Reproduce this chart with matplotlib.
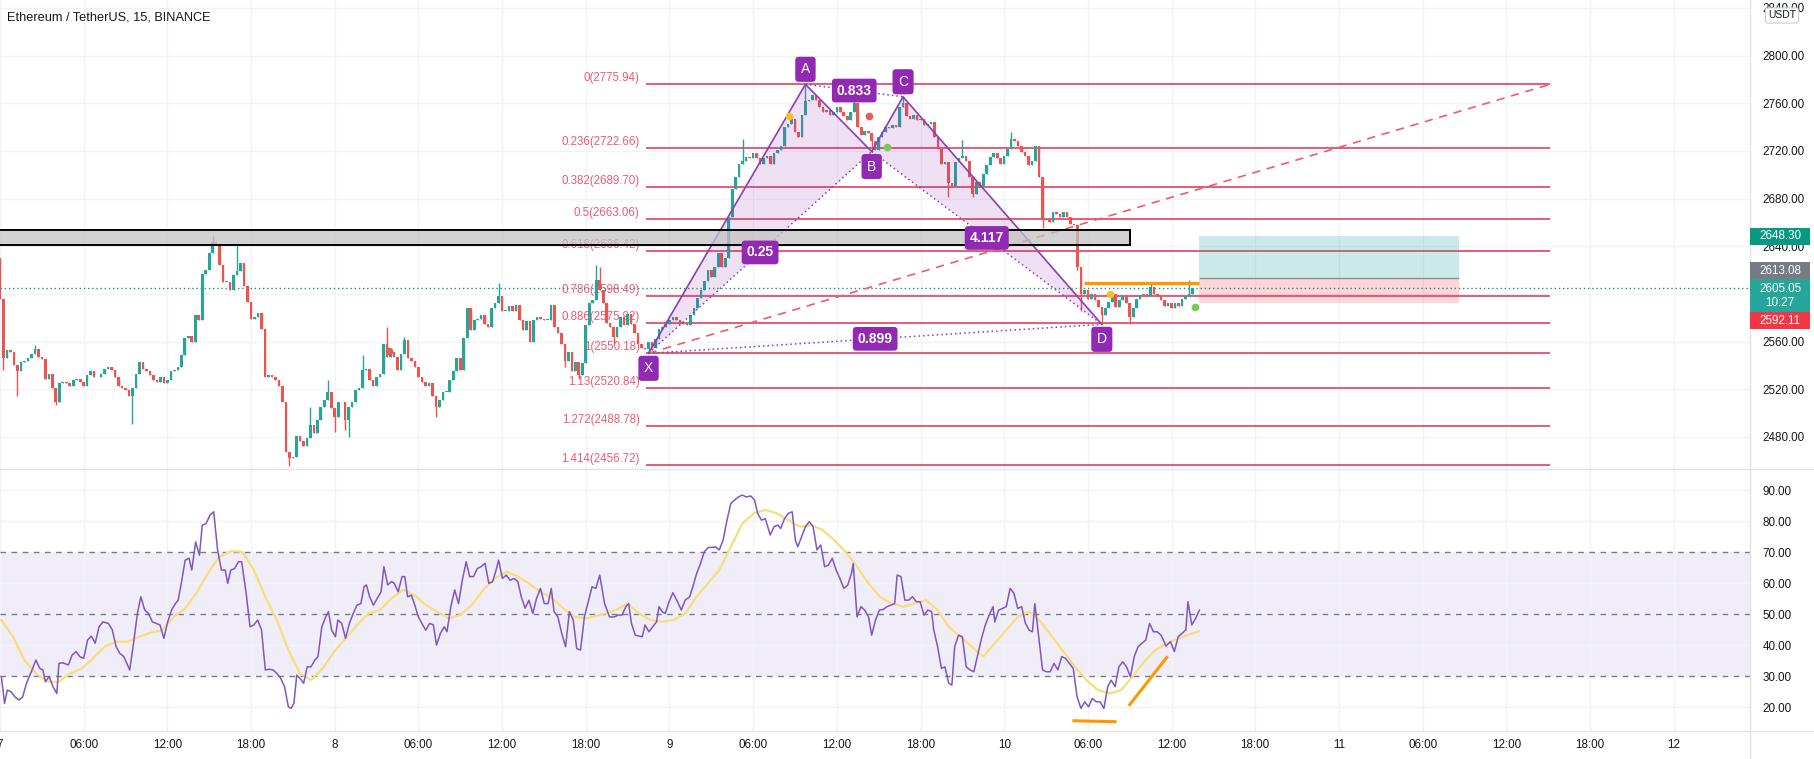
import matplotlib.pyplot as plt
import numpy as np
from matplotlib.patches import Rectangle, Polygon
from matplotlib.lines import Line2D

plt.rcParams['font.family'] = ['Liberation Sans', 'DejaVu Sans']

# ---- data (15 min bars, bar 0 = day 7 00:00) ----
first_open = 2630
closes = [
    2596, 2546, 2553, 2551, 2540, 2535, 2543, 2544, 2546, 2550,
    2554, 2547, 2545, 2529, 2533, 2521, 2509, 2525, 2526, 2525,
    2523, 2528, 2529, 2526, 2523, 2532, 2535, 2530, 2530, 2533,
    2537, 2539, 2536, 2530, 2523, 2521, 2519, 2514, 2521, 2533,
    2543, 2537, 2535, 2532, 2528, 2526, 2530, 2525, 2528, 2535,
    2536, 2539, 2549, 2563, 2565, 2560, 2582, 2578, 2617, 2620,
    2634, 2644, 2642, 2624, 2610, 2610, 2603, 2616, 2619, 2626,
    2607, 2593, 2579, 2581, 2584, 2571, 2530, 2532, 2530, 2528,
    2523, 2509, 2467, 2462, 2463, 2481, 2477, 2472, 2479, 2490,
    2483, 2494, 2505, 2511, 2518, 2504, 2497, 2509, 2509, 2494,
    2505, 2509, 2519, 2521, 2536, 2537, 2528, 2523, 2530, 2533,
    2558, 2547, 2551, 2547, 2536, 2550, 2561, 2546, 2544, 2539,
    2530, 2526, 2523, 2525, 2514, 2505, 2511, 2518, 2518, 2528,
    2535, 2546, 2536, 2563, 2588, 2570, 2578, 2579, 2582, 2575,
    2572, 2588, 2592, 2598, 2586, 2586, 2590, 2586, 2591, 2578,
    2570, 2577, 2560, 2578, 2581, 2579, 2578, 2578, 2591, 2572,
    2567, 2558, 2544, 2551, 2535, 2543, 2532, 2542, 2574, 2592,
    2595, 2612, 2603, 2592, 2576, 2572, 2564, 2572, 2581, 2574,
    2583, 2575, 2567, 2558, 2555, 2554, 2560, 2555, 2562, 2571,
    2572, 2575, 2578, 2581, 2578, 2575, 2576, 2574, 2582, 2588,
    2597, 2603, 2611, 2620, 2614, 2623, 2634, 2623, 2630, 2665,
    2688, 2698, 2709, 2712, 2715, 2714, 2718, 2714, 2709, 2714,
    2716, 2709, 2718, 2721, 2724, 2740, 2743, 2747, 2736, 2732,
    2750, 2762, 2763, 2767, 2763, 2757, 2753, 2754, 2750, 2753,
    2757, 2753, 2749, 2746, 2753, 2760, 2740, 2733, 2737, 2735,
    2728, 2721, 2732, 2736, 2740, 2739, 2742, 2740, 2757, 2760,
    2749, 2747, 2750, 2746, 2747, 2742, 2743, 2744, 2732, 2722,
    2709, 2711, 2693, 2691, 2711, 2714, 2716, 2712, 2698, 2684,
    2694, 2691, 2701, 2708, 2715, 2718, 2714, 2709, 2716, 2722,
    2730, 2728, 2724, 2719, 2716, 2708, 2712, 2724, 2698, 2662,
    2663, 2660, 2669, 2667, 2665, 2669, 2665, 2659, 2658, 2623,
    2600, 2603, 2596, 2600, 2595, 2589, 2582, 2588, 2593, 2600,
    2589, 2595, 2598, 2592, 2581, 2588, 2596, 2599, 2600, 2598,
    2606, 2600, 2598, 2595, 2590, 2592, 2588, 2592, 2590, 2596,
    2598, 2600, 2605.05,
]
# wick extremes that stick out past the bodies
wick_highs = {10: 2557, 61: 2649, 68: 2641, 89: 2505, 94: 2528, 104: 2549,
              111: 2572, 116: 2564, 143: 2609, 171: 2624, 172: 2623, 213: 2730,
              231: 2775.94, 245: 2766, 259: 2765.5, 276: 2729, 290: 2736,
              330: 2610, 341: 2612}
wick_lows = {1: 2536, 5: 2514, 16: 2507, 38: 2491, 83: 2456, 96: 2484, 99: 2486,
             100: 2480, 125: 2497, 162: 2539, 166: 2529, 176: 2558, 186: 2550.18,
             250: 2719.5, 272: 2681, 279: 2681, 299: 2655, 309: 2620, 310: 2586,
             316: 2574.5, 324: 2575}

rsi_pts = [
    (0.4, 29.9), (1.3, 21.3), (2.1, 25.6), (3.2, 25.0), (4.3, 23.4), (5.4, 22.4), (6.5, 23.4),
    (7.6, 27.8), (9.2, 32.1), (10.3, 35.3), (11.4, 32.6), (12.3, 32.1), (13.0, 28.3), (14.1, 29.9),
    (15.2, 26.7), (16.3, 24.5), (16.9, 34.2), (18.0, 34.4), (19.6, 33.7), (20.7, 36.9), (21.8, 38.0),
    (22.9, 36.4), (24.0, 35.8), (25.1, 41.7), (26.2, 43.0), (27.3, 40.7), (28.4, 46.0), (29.5, 47.6),
    (31.1, 47.1), (32.2, 45.0), (33.3, 39.6), (34.4, 37.4), (35.5, 36.4), (37.2, 32.1), (38.3, 40.7),
    (39.4, 50.3), (40.4, 55.7), (41.5, 51.4), (42.6, 50.3), (43.7, 47.6), (44.8, 47.1), (45.9, 46.6),
    (47.0, 42.3), (48.1, 47.6), (49.2, 51.4), (50.3, 53.5), (51.1, 54.6), (52.0, 60.0), (53.1, 67.5),
    (54.2, 68.1), (55.0, 64.3), (56.1, 73.4), (57.2, 69.1), (58.0, 78.8), (59.1, 79.3), (60.2, 82.0),
    (61.3, 83.1), (62.4, 70.8), (63.5, 64.3), (64.6, 64.3), (65.3, 60.0), (66.2, 64.3), (67.3, 64.8),
    (68.4, 67.0), (69.3, 67.0), (70.6, 56.8), (71.7, 46.0), (72.8, 46.6), (73.9, 48.2), (75.0, 45.0),
    (76.1, 32.1), (77.2, 32.3), (78.3, 32.1), (79.4, 31.0), (80.5, 29.4), (81.6, 26.7), (82.7, 20.2),
    (83.5, 19.7), (84.3, 21.3), (85.1, 30.4), (86.0, 29.4), (87.1, 27.8), (88.1, 33.1), (89.2, 33.1),
    (90.3, 35.3), (91.2, 36.4), (92.3, 46.0), (93.4, 49.2), (94.2, 50.9), (95.1, 45.0), (96.2, 42.8),
    (96.9, 48.2), (98.0, 47.1), (99.1, 42.3), (100.2, 47.1), (101.3, 50.3), (102.4, 53.0), (103.5, 53.5),
    (104.4, 58.9), (105.1, 59.5), (106.0, 55.7), (107.1, 53.0), (108.2, 55.2), (109.3, 57.3), (110.1, 65.4),
    (111.2, 59.5), (112.3, 60.6), (113.1, 60.0), (114.2, 57.3), (115.3, 62.2), (116.1, 62.2), (116.9, 55.7),
    (118.0, 56.2), (119.1, 52.5), (120.0, 49.2), (121.0, 47.1), (122.1, 44.9), (123.2, 47.1), (124.3, 46.6),
    (125.2, 40.1), (126.3, 43.9), (127.4, 46.0), (128.2, 44.4), (129.3, 52.5), (130.4, 57.9), (131.5, 53.5),
    (132.6, 61.1), (133.7, 67.0), (134.7, 62.2), (135.8, 62.2), (136.9, 64.8), (138.0, 65.4), (139.1, 66.5),
    (140.2, 60.0), (141.3, 60.6), (142.4, 64.8), (143.0, 67.5), (144.1, 61.6), (145.2, 62.7), (146.3, 61.0),
    (147.4, 61.6), (148.5, 60.6), (149.5, 55.7), (150.6, 52.0), (151.7, 54.6), (152.8, 50.3), (153.9, 55.2),
    (155.0, 58.4), (156.1, 53.5), (157.2, 53.5), (158.1, 58.4), (158.9, 50.9), (160.0, 49.2), (161.1, 43.9),
    (162.2, 39.6), (163.3, 50.9), (164.4, 48.2), (165.4, 39.0), (166.5, 38.5), (167.6, 49.2), (168.7, 54.1),
    (169.8, 58.9), (170.9, 58.4), (172.0, 62.7), (173.4, 53.5), (174.8, 49.2), (176.2, 49.2), (177.3, 49.8),
    (178.4, 49.8), (179.5, 52.5), (180.3, 53.5), (181.1, 47.1), (182.2, 43.3), (183.3, 43.0), (184.2, 42.8),
    (185.0, 46.6), (186.1, 44.4), (187.2, 46.0), (188.3, 47.6), (189.0, 52.5), (189.9, 50.9), (190.8, 50.3),
    (191.9, 54.1), (193.0, 57.0), (194.1, 54.6), (195.4, 51.4), (196.5, 54.6), (197.8, 55.7), (198.7, 58.9),
    (199.8, 63.2), (200.9, 66.4), (202.0, 70.2), (203.1, 71.6), (204.2, 71.6), (205.2, 71.8), (206.3, 70.8),
    (207.4, 74.0), (208.5, 80.4), (209.6, 85.8), (210.7, 86.9), (211.8, 87.9), (212.9, 88.5), (214.0, 87.9),
    (215.3, 88.2), (216.4, 86.9), (217.3, 82.6), (218.4, 80.4), (219.5, 80.9), (220.9, 75.6), (222.0, 78.3),
    (223.1, 78.8), (223.9, 77.7), (225.0, 80.9), (226.1, 82.6), (227.2, 83.1), (228.1, 74.0), (228.8, 71.8),
    (229.9, 75.1), (231.0, 78.3), (232.1, 79.9), (233.2, 78.3), (234.3, 70.8), (235.4, 72.4), (236.5, 65.4),
    (237.6, 65.9), (238.7, 68.1), (239.8, 64.3), (240.9, 61.6), (242.0, 58.4), (243.1, 59.4), (244.2, 63.2),
    (244.7, 66.4), (245.8, 49.2), (246.9, 52.5), (248.0, 51.4), (249.1, 49.2), (250.0, 43.3), (251.1, 48.2),
    (252.2, 51.4), (253.3, 51.6), (254.4, 52.5), (255.5, 53.0), (256.6, 53.5), (257.3, 62.7), (258.4, 62.2),
    (259.5, 54.6), (260.6, 54.6), (261.7, 55.7), (262.8, 54.1), (263.9, 54.1), (265.0, 49.8), (266.1, 51.4),
    (267.2, 50.9), (267.8, 45.0), (268.9, 39.6), (270.0, 32.6), (271.0, 33.1), (272.1, 27.8), (273.0, 27.2),
    (273.8, 39.6), (274.9, 43.3), (276.0, 42.8), (277.1, 33.1), (278.2, 32.1), (279.3, 31.5), (280.4, 36.9),
    (281.5, 42.3), (282.6, 46.6), (283.7, 49.8), (284.8, 52.5), (285.3, 47.6), (286.4, 51.4), (287.5, 51.9),
    (288.6, 52.5), (289.7, 58.4), (290.8, 56.8), (291.9, 51.9), (293.0, 52.5), (294.1, 47.1), (295.2, 44.9),
    (296.1, 44.4), (296.8, 53.5), (297.9, 42.8), (299.0, 32.1), (300.1, 31.5), (301.2, 31.5), (302.3, 34.2),
    (303.4, 32.1), (304.5, 36.4), (305.6, 35.8), (306.7, 34.2), (307.8, 32.6), (308.9, 23.5), (310.0, 19.7),
    (311.1, 21.8), (312.2, 20.2), (313.3, 22.9), (314.4, 21.8), (315.5, 21.8), (316.6, 19.7), (317.7, 26.7),
    (318.7, 28.8), (319.8, 26.7), (320.9, 33.1), (322.0, 34.7), (323.1, 33.1), (324.2, 29.9), (325.3, 36.4),
    (326.4, 39.6), (327.5, 40.7), (328.6, 41.7), (329.7, 47.1), (330.8, 44.4), (331.9, 44.4), (333.0, 43.3),
    (334.4, 39.8), (335.7, 41.2), (336.8, 38.0), (337.9, 42.8), (339.0, 43.9), (340.1, 45.0), (340.7, 54.1),
    (341.8, 46.6), (342.9, 48.7), (344.0, 51.4),
]
rsi_ma_pts = [
    (0.4, 48.2), (3.7, 42.8), (7.0, 35.3), (10.3, 31.0), (13.6, 28.3), (16.9, 28.3), (20.2, 31.0),
    (23.5, 32.6), (26.7, 35.8), (30.0, 39.6), (33.3, 41.2), (36.6, 41.2), (39.9, 42.8), (43.2, 44.1),
    (46.5, 44.9), (49.8, 49.2), (53.1, 51.9), (56.3, 56.8), (59.6, 63.2), (62.9, 68.6), (66.2, 70.4),
    (69.5, 70.2), (72.8, 64.3), (76.1, 55.7), (79.4, 48.2), (82.7, 38.5), (86.0, 31.0), (89.2, 28.8),
    (92.5, 32.6), (95.8, 37.9), (99.1, 42.3), (102.4, 46.6), (105.7, 50.3), (109.0, 51.4), (112.3, 55.2),
    (115.6, 57.9), (118.9, 56.2), (122.1, 53.0), (125.4, 50.9), (128.7, 48.7), (132.0, 49.8), (135.3, 53.0),
    (138.6, 57.9), (141.9, 61.6), (145.2, 63.8), (148.5, 62.2), (151.7, 60.0), (155.0, 57.3), (158.3, 55.2),
    (161.6, 51.9), (164.9, 49.2), (168.2, 48.7), (172.0, 49.8), (176.7, 51.4), (180.0, 53.5), (183.3, 50.3),
    (186.6, 48.2), (189.9, 47.6), (193.2, 48.2), (196.5, 50.3), (199.8, 55.7), (203.0, 60.0), (206.3, 64.3),
    (209.6, 71.8), (212.9, 79.3), (216.2, 82.6), (219.5, 83.7), (222.8, 82.6), (226.1, 80.4), (229.4, 78.3),
    (232.7, 78.8), (236.0, 77.2), (239.2, 74.0), (242.5, 70.2), (245.8, 65.4), (249.1, 60.0), (252.4, 55.7),
    (255.7, 53.5), (259.0, 52.5), (262.3, 53.5), (265.6, 54.6), (268.9, 51.4), (272.1, 46.0), (275.4, 42.8),
    (278.7, 39.6), (282.0, 36.4), (285.3, 40.7), (288.6, 44.9), (291.9, 49.2), (295.2, 50.9), (298.5, 47.6),
    (301.8, 42.8), (305.0, 38.0), (308.3, 33.1), (311.6, 28.8), (314.9, 25.6), (318.2, 24.5), (321.5, 25.6),
    (324.8, 29.9), (328.1, 34.7), (331.4, 38.5), (334.6, 40.7), (337.9, 42.3), (341.2, 43.6), (343.9, 44.6),
]

fib_ratios = [0, 0.236, 0.382, 0.5, 0.618, 0.786, 0.886, 1, 1.13, 1.272, 1.414]
fib_prices = [2775.94, 2722.66, 2689.70, 2663.06, 2636.42, 2598.49, 2575.92, 2550.18,
              2520.84, 2488.78, 2456.72]
fib_span = (185.2, 444.6)

pattern_names = ['X', 'A', 'B', 'C', 'D']
pattern_bars = [186, 231, 250, 259, 316]
pattern_prices = [2550.18, 2775.94, 2719.5, 2765.5, 2574.5]
ratio_pairs = [('X', 'B', '0.25'), ('A', 'C', '0.833'), ('B', 'D', '4.117'), ('X', 'D', '0.899')]

zone_prices = (2641.1, 2653.7)
zone_end = 324.2
signal_dots = [(111.5, 2552.4, '#e35d5b'), (226.2, 2749.2, '#f9c023'), (249.1, 2749.0, '#e35d5b'),
               (254.3, 2723.0, '#7cc95a'), (318.3, 2599.9, '#f9c023'), (342.8, 2589.3, '#7cc95a')]
trend_line = ((186, 2550.18), (444.6, 2775.94))
resist_level, resist_span = 2608.8, (310.8, 343.9)
target, entry, stop = 2648.30, 2613.08, 2592.11
position_span = (343.9, 418.5)
last_price, countdown = 2605.05, '10:27'
rsi_flat = ((308.0, 15.7), (319.8, 15.4))
rsi_rise = ((324.0, 20.9), (334.6, 36.1))

time_labels = ['7', '06:00', '12:00', '18:00', '8', '06:00', '12:00', '18:00', '9', '06:00',
               '12:00', '18:00', '10', '06:00', '12:00', '18:00', '11', '06:00', '12:00',
               '18:00', '12']
price_ticks = np.arange(2480, 2841, 40)
rsi_ticks = np.arange(20, 91, 10)

# ---- layout ----
W, H = 1814, 759
PANE_R, MAIN_B, RSI_B = 1750, 469, 731
fig = plt.figure(figsize=(W / 100, H / 100), dpi=100)
ax = fig.add_axes([0, 1 - MAIN_B / H, PANE_R / W, MAIN_B / H])
ax_rsi = fig.add_axes([0, 1 - RSI_B / H, PANE_R / W, (RSI_B - MAIN_B) / H], sharex=ax)

txt = '#131722'
grid_c = '#f0f3fa'
up_c, dn_c = '#26a69a', '#ef5350'
purple = '#9129b3'

ax.set_xlim(0.43, 501.9)
ax.set_ylim(2453.1, 2846.7)
ax_rsi.set_ylim(12.4, 96.9)

tick_bars = np.arange(0, 24 * len(time_labels), 24)
for a in (ax, ax_rsi):
    for s in a.spines.values():
        s.set_visible(False)
    a.set_xticks(tick_bars)
    a.tick_params(axis='x', length=0, labelbottom=False)
    a.yaxis.tick_right()
    a.tick_params(axis='y', length=0, pad=9, labelsize=8.4, labelcolor=txt)
    a.grid(True, color=grid_c, lw=1, zorder=0)
    a.set_axisbelow(True)
ax.set_yticks(price_ticks)
ax.set_yticklabels([f'{v:.2f}' for v in price_ticks])
ax_rsi.set_yticks(rsi_ticks)
ax_rsi.set_yticklabels([f'{v:.2f}' for v in rsi_ticks])

for b, lab in zip(tick_bars, time_labels):
    ax_rsi.annotate(lab, xy=(b, 0), xycoords=('data', 'axes fraction'), xytext=(0, -14),
                    textcoords='offset pixels', ha='center', va='center', fontsize=8.4,
                    color=txt, annotation_clip=False)

# ---- candles ----
c = np.array(closes, dtype=float)
o = np.r_[first_open, c[:-1]]
idx = np.arange(len(c))
hi = np.maximum(o, c)
lo = np.minimum(o, c)
for k, v in wick_highs.items():
    hi[k] = max(hi[k], v)
for k, v in wick_lows.items():
    lo[k] = min(lo[k], v)
cols = np.where(c >= o, up_c, dn_c)
ax.vlines(idx, lo, hi, colors=cols, lw=1, zorder=3)
ax.bar(idx, np.maximum(np.abs(c - o), 0.6), bottom=np.minimum(o, c), width=0.75,
       color=cols, zorder=3)

# ---- fibonacci ----
ax.hlines(fib_prices, *fib_span, color='#e0304f', lw=1.1, zorder=1.5)
for r, p in zip(fib_ratios, fib_prices):
    ax.annotate(f'{r:g}({p:.2f})', xy=(fib_span[0], p), xytext=(-6, 6),
                textcoords='offset pixels', ha='right', va='center', fontsize=8.3,
                color='#ef5b72', zorder=2)

# ---- support zone ----
ax.add_patch(Rectangle((-5, zone_prices[0]), zone_end + 5, zone_prices[1] - zone_prices[0],
                       fc='#c3c3c3', alpha=0.75, ec='none', zorder=5))
ax.add_patch(Rectangle((-5, zone_prices[0]), zone_end + 5, zone_prices[1] - zone_prices[0],
                       fc='none', ec='black', lw=1.4, zorder=5.1))

# ---- trend line ----
ax.plot(*zip(*trend_line), color='#ef5a6f', ls=(0, (5, 4)), lw=1.2, zorder=4)

# ---- harmonic pattern ----
pts = {n: (b, p) for n, b, p in zip(pattern_names, pattern_bars, pattern_prices)}
for tri in (('X', 'A', 'B'), ('B', 'C', 'D')):
    ax.add_patch(Polygon([pts[n] for n in tri], closed=True, fc=purple, alpha=0.14,
                         ec='none', zorder=3.5))
ax.plot(pattern_bars, pattern_prices, color='#8a3fb3', lw=1.2, zorder=4)
for a_, b_, lab in ratio_pairs:
    (x0, y0), (x1, y1) = pts[a_], pts[b_]
    ax.plot([x0, x1], [y0, y1], color='#8a3fb3', lw=1.1, ls=(0, (1, 2)), zorder=4)
    ax.annotate(lab, xy=((x0 + x1) / 2, (y0 + y1) / 2), ha='center', va='center',
                fontsize=10, fontweight='bold', color='white', zorder=8,
                bbox=dict(boxstyle='round,pad=0.35,rounding_size=0.25', fc=purple, ec='none'))
for n, b, p in zip(pattern_names, pattern_bars, pattern_prices):
    up = n in ('A', 'C')
    ax.annotate(n, xy=(b, p), xytext=(0, 15 if up else -15), textcoords='offset pixels',
                ha='center', va='center', fontsize=10, color='white', zorder=8,
                bbox=dict(boxstyle='round,pad=0.4,rounding_size=0.25', fc=purple, ec='none'))

# ---- signal dots ----
for b, p, col in signal_dots:
    ax.plot(b, p, 'o', ms=5.5, color=col, mec='none', zorder=6)

# ---- range high + long position ----
ax.hlines(resist_level, *resist_span, color='#ff9800', lw=2.4, zorder=5)
pw = position_span[1] - position_span[0]
ax.add_patch(Rectangle((position_span[0], entry), pw, target - entry, fc='#26a69a',
                       alpha=0.24, ec='none', zorder=2))
ax.add_patch(Rectangle((position_span[0], stop), pw, entry - stop, fc='#f23645',
                       alpha=0.2, ec='none', zorder=2))
ax.hlines(entry, *position_span, color='#8c8f99', lw=1, zorder=2.2)
ax.axhline(last_price, color='#1e8f84', ls=(0, (1, 2)), lw=1, zorder=2.5)

# ---- rsi pane ----
ax_rsi.axhspan(30, 70, color='#7e57c2', alpha=0.1, lw=0, zorder=0.5)
for lvl in (30, 50, 70):
    ax_rsi.axhline(lvl, color='#787b86', ls=(0, (4, 4)), lw=1, zorder=1)
ax_rsi.plot(*zip(*rsi_ma_pts), color='#f4df7a', lw=1.6, zorder=2)
ax_rsi.plot(*zip(*rsi_pts), color='#7e57c2', lw=1.1, zorder=3)
ax_rsi.plot(*zip(*rsi_flat), color='#ff9800', lw=2.2, zorder=4)
ax_rsi.plot(*zip(*rsi_rise), color='#ff9800', lw=2.2, zorder=4)

# ---- separators ----
sep = '#e0e3eb'
fig.add_artist(Line2D([PANE_R / W] * 2, [0, 1], color=sep, lw=1))
for yb in (MAIN_B, RSI_B):
    fig.add_artist(Line2D([0, 1], [1 - yb / H] * 2, color=sep, lw=1))

# ---- price tags on the axis ----
fig.canvas.draw()
to_px = lambda p: H - ax.transData.transform((0, p))[1]
tags = [(target, f'{target:.2f}', '#089981', 17), (entry, f'{entry:.2f}', '#787b86', 17),
        (last_price, f'{last_price:.2f}\n{countdown}', '#26a69a', 33),
        (stop, f'{stop:.2f}', '#f23645', 17)]
boxes = [[to_px(p) - 8.5, h, s, col] for p, s, col, h in tags]
# the three close tags are stacked around the last-price tag
group = boxes[1:]
mid = boxes[2][0] + boxes[2][1] / 2
top = mid - sum(b[1] for b in group) / 2
for b in group:
    b[0] = top
    top += b[1]
for y0, h, s, col in boxes:
    fig.add_artist(Rectangle((PANE_R / W, 1 - (y0 + h) / H), 60 / W, h / H,
                             transform=fig.transFigure, fc=col, ec='none', zorder=10))
    fig.text((PANE_R + 30) / W, 1 - (y0 + h / 2) / H, s, ha='center', va='center',
             fontsize=8.4, color='white', linespacing=1.15, zorder=11)

fig.text(1782 / W, 1 - 15.5 / H, 'USDT', ha='center', va='center', fontsize=7.5, color=txt,
         zorder=12, bbox=dict(boxstyle='round,pad=0.25', fc='white', ec='#c9ccd6', lw=0.8))
fig.text(7 / W, 1 - 17 / H, 'Ethereum / TetherUS, 15, BINANCE', ha='left', va='center',
         fontsize=9.2, color=txt)

fig.savefig('out.png', dpi=100, facecolor='white')
